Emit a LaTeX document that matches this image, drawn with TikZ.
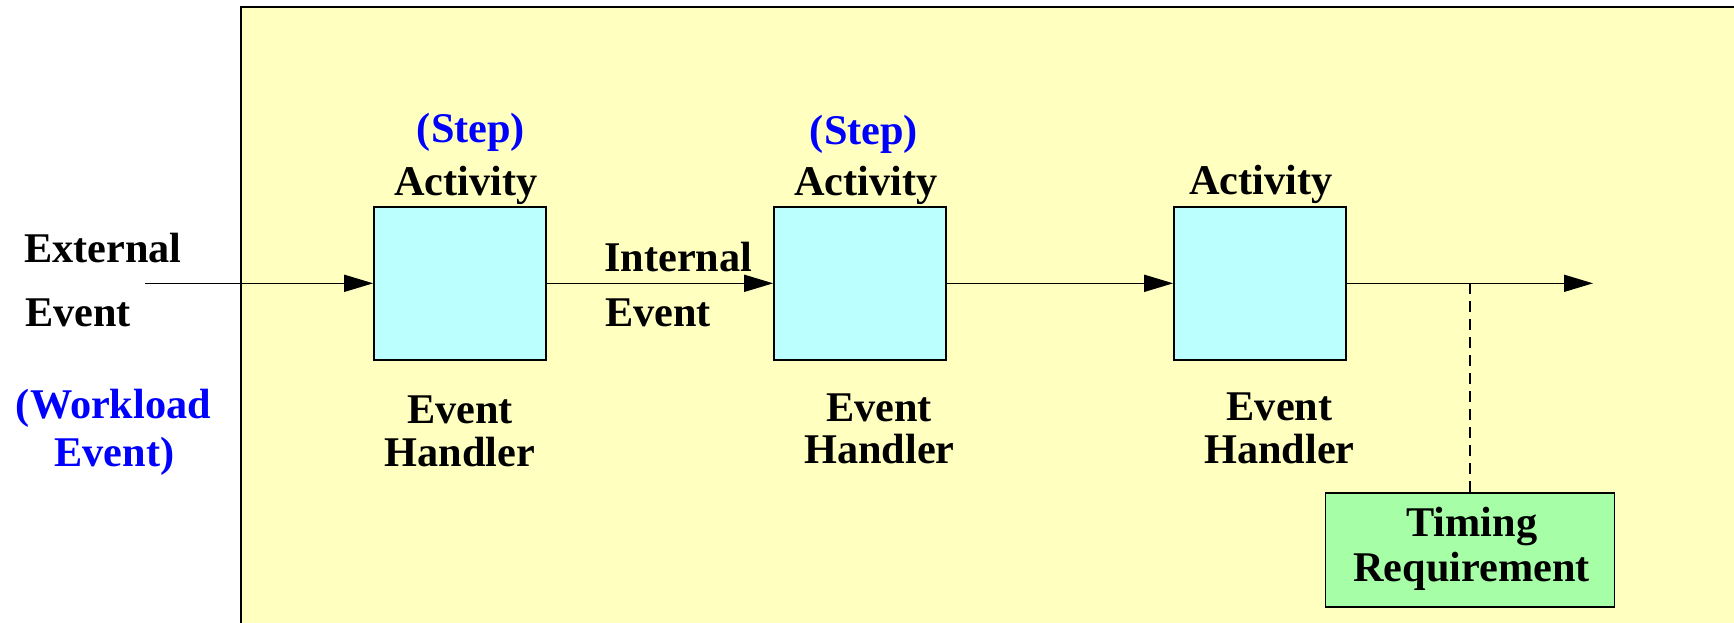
\documentclass[tikz,border=0pt]{standalone}
\usepackage{fontspec}
\setmainfont{Liberation Serif}
\usetikzlibrary{arrows.meta}
\definecolor{bgyellow}{RGB}{255,255,192}
\definecolor{boxcyan}{RGB}{187,255,255}
\definecolor{reqgreen}{RGB}{166,255,166}
\definecolor{noteblue}{RGB}{0,0,255}
\begin{document}
\begin{tikzpicture}[x=1pt,y=-1pt,
  lbl/.style={font=\bfseries\fontsize{42.3pt}{44pt}\selectfont, inner sep=0pt, anchor=base},
  lblw/.style={lbl, anchor=base west},
  note/.style={lbl, text=noteblue},
  handler/.style={draw, line width=1.7pt, fill=boxcyan, minimum width=172pt, minimum height=153pt, inner sep=0pt},
  reqbox/.style={draw, line width=1.7pt, fill=reqgreen, minimum width=289pt, minimum height=114pt, inner sep=0pt},
  flow/.style={line width=1.6pt, -{Triangle[length=29pt,width=17pt]}},
  tie/.style={line width=1.6pt, dash pattern=on 11pt off 7pt}
]
\useasboundingbox (0,0) rectangle (1734,622);

% system frame, running off the right and bottom edges
\begin{scope}
  \clip (0,0) rectangle (1734,622);
  \draw[fill=bgyellow, line width=2pt] (240.7,7) rectangle (1780,660);
\end{scope}

% event handlers
\node[handler] (h1) at (460,283.3) {};
\node[handler] (h2) at (860,283.3) {};
\node[handler] (h3) at (1260,283.3) {};

% timing requirement
\node[reqbox] (req) at (1470,549.7) {};

% flow of events
\coordinate (src) at (145,283.3);
\coordinate (sink) at (1593,283.3);
\coordinate (tap) at (1470,283.3);
\draw[flow] (src) -- (h1);
\draw[flow] (h1) -- (h2);
\draw[flow] (h2) -- (h3);
\draw[flow] (h3) -- (sink);
\draw[tie] (tap) -- (req.north);

% labels
\node[lblw] (ext1) at (24,262.7) {External};
\node[lblw] (ext2) at (25,326) {Event};
\node[note] (wl1) at (113.5,418) {(Workload};
\node[note] (wl2) at (114.5,466) {Event)};

\node[lblw] (int1) at (604,271.7) {Internal};
\node[lblw] (int2) at (605,326) {Event};

\node[note] (step1) at (471,142) {(Step)};
\node[lbl] (act1) at (466,195) {Activity};
\node[note] (step2) at (864,144) {(Step)};
\node[lbl] (act2) at (866,195) {Activity};
\node[lbl] (act3) at (1261,194.5) {Activity};

\node[lbl] (eh1a) at (460,423) {Event};
\node[lbl] (eh1b) at (460,466.7) {Handler};
\node[lbl] (eh2a) at (879,421) {Event};
\node[lbl] (eh2b) at (879.5,463.5) {Handler};
\node[lbl] (eh3a) at (1279.5,420.5) {Event};
\node[lbl] (eh3b) at (1279.5,463.5) {Handler};

\node[lbl] (tim1) at (1471.7,536.5) {Timing};
\node[lbl] (tim2) at (1471.7,581.7) {Requirement};
\end{tikzpicture}
\end{document}
